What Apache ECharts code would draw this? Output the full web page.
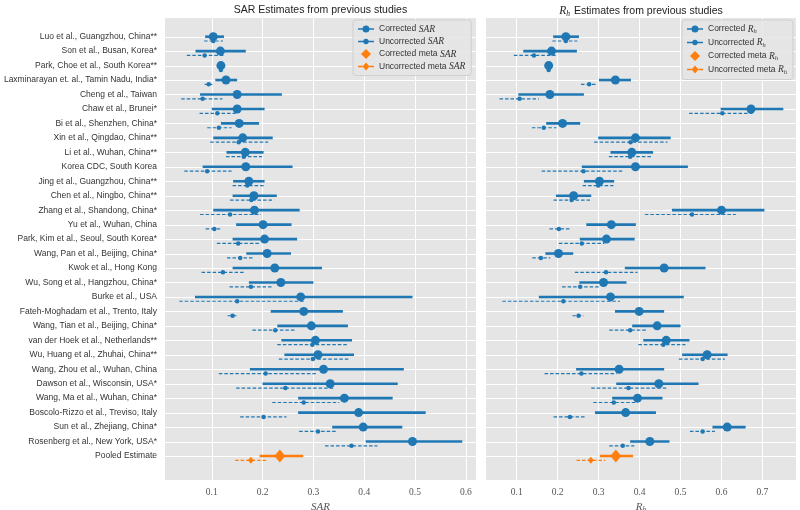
<!DOCTYPE html>
<html><head><meta charset="utf-8">
<script src="https://cdn.jsdelivr.net/npm/echarts@6/dist/echarts.min.js"></script>
<style>html,body{margin:0;padding:0;background:#fff}#c{width:800px;height:510px}</style>
</head><body><div id="c"></div>
<script>
// ---- data ----
const studies = [
  'Luo et al., Guangzhou, China**', 'Son et al., Busan, Korea*', 'Park, Choe et al., South Korea**',
  'Laxminarayan et. al., Tamin Nadu, India*', 'Cheng et al., Taiwan', 'Chaw et al., Brunei*',
  'Bi et al., Shenzhen, China*', 'Xin et al., Qingdao, China**', 'Li et al., Wuhan, China**',
  'Korea CDC, South Korea', 'Jing et al., Guangzhou, China**', 'Chen et al., Ningbo, China**',
  'Zhang et al., Shandong, China*', 'Yu et al., Wuhan, China', 'Park, Kim et al., Seoul, South Korea*',
  'Wang, Pan et al., Beijing, China*', 'Kwok et al., Hong Kong', 'Wu, Song et al., Hangzhou, China*',
  'Burke et al., USA', 'Fateh-Moghadam et al., Trento, Italy', 'Wang, Tian et al., Beijing, China*',
  'van der Hoek et al., Netherlands**', 'Wu, Huang et al., Zhuhai, China**', 'Wang, Zhou et al., Wuhan, China',
  'Dawson et al., Wisconsin, USA*', 'Wang, Ma et al., Wuhan, China*', 'Boscolo-Rizzo et al., Treviso, Italy',
  'Sun et al., Zhejiang, China*', 'Rosenberg et al., New York, USA*', 'Pooled Estimate'
];
const sarCorr   = [0.103,0.117,0.118,0.128,0.150,0.150,0.154,0.161,0.166,0.167,0.173,0.183,0.184,0.201,0.204,0.209,0.224,0.236,0.275,0.281,0.296,0.304,0.309,0.320,0.333,0.361,0.389,0.398,0.495];
const sarCorrLo = [0.087,0.068,0.115,0.107,0.077,0.100,0.118,0.103,0.129,0.082,0.142,0.141,0.103,0.148,0.141,0.168,0.141,0.173,0.067,0.216,0.229,0.237,0.243,0.175,0.200,0.270,0.270,0.337,0.403];
const sarCorrHi = [0.124,0.167,0.121,0.150,0.238,0.204,0.193,0.220,0.202,0.259,0.204,0.228,0.273,0.257,0.268,0.256,0.317,0.300,0.495,0.358,0.368,0.376,0.380,0.478,0.466,0.456,0.521,0.475,0.593];
const sarUnc    = [0.103,0.086,0.118,0.094,0.082,0.111,0.114,0.153,0.163,0.091,0.170,0.178,0.136,0.105,0.152,0.156,0.122,0.177,0.150,0.141,0.225,0.298,0.299,0.206,0.245,0.281,0.202,0.309,0.375];
const sarUncLo  = [0.085,0.051,0.116,0.086,0.040,0.076,0.091,0.097,0.128,0.046,0.141,0.136,0.077,0.088,0.110,0.130,0.080,0.135,0.036,0.131,0.180,0.229,0.232,0.114,0.148,0.219,0.156,0.272,0.323];
const sarUncHi  = [0.122,0.123,0.120,0.101,0.121,0.147,0.139,0.211,0.199,0.139,0.202,0.223,0.197,0.119,0.196,0.184,0.164,0.220,0.284,0.152,0.265,0.369,0.370,0.305,0.341,0.351,0.247,0.346,0.426];
const sarMetaCorr = [0.234, 0.194, 0.280];   // estimate, low, high
const sarMetaUnc  = [0.177, 0.146, 0.211];

const rhCorr   = [0.220,0.185,0.178,0.341,0.181,0.672,0.212,0.390,0.381,0.390,0.302,0.239,0.600,0.331,0.319,0.202,0.460,0.312,0.329,0.399,0.443,0.465,0.565,0.350,0.447,0.395,0.366,0.614,0.425];
const rhCorrLo = [0.189,0.116,0.175,0.301,0.104,0.598,0.172,0.299,0.329,0.259,0.264,0.196,0.479,0.270,0.254,0.170,0.364,0.253,0.154,0.340,0.382,0.409,0.504,0.245,0.343,0.333,0.291,0.578,0.377];
const rhCorrHi = [0.252,0.247,0.181,0.379,0.264,0.751,0.255,0.476,0.433,0.518,0.338,0.282,0.705,0.391,0.388,0.238,0.561,0.368,0.508,0.460,0.500,0.522,0.615,0.460,0.544,0.456,0.440,0.659,0.473];
const rhUnc    = [0.220,0.142,0.178,0.277,0.107,0.602,0.166,0.378,0.377,0.263,0.299,0.234,0.528,0.203,0.259,0.159,0.318,0.255,0.214,0.251,0.377,0.458,0.554,0.258,0.373,0.337,0.230,0.554,0.359];
const rhUncLo  = [0.187,0.093,0.175,0.257,0.058,0.521,0.137,0.289,0.325,0.161,0.261,0.190,0.413,0.180,0.203,0.138,0.242,0.211,0.065,0.236,0.326,0.397,0.496,0.168,0.282,0.287,0.190,0.523,0.326];
const rhUncHi  = [0.248,0.195,0.181,0.295,0.154,0.676,0.197,0.468,0.428,0.360,0.336,0.279,0.635,0.229,0.314,0.182,0.395,0.301,0.352,0.264,0.417,0.512,0.608,0.344,0.466,0.390,0.270,0.584,0.387];
const rhMetaCorr = [0.342, 0.303, 0.384];
const rhMetaUnc  = [0.281, 0.246, 0.316];

// ---- styling ----
const BLUE = '#1f77b4', ORANGE = '#ff7f0e', BG = '#e5e5e5';
const UNC_OFFSET = 0.3;
const nRows = studies.length;
const pooledRow = nRows - 1;

function rows(est, lo, hi, off) { return est.map((v, i) => [v, i + off, lo[i], hi[i]]); }
function metaRow(m, off) { return [[m[0], pooledRow + off, m[1], m[2]]]; }

function ciRender(width, dash) {
  return function (params, api) {
    const y = api.value(1);
    const p1 = api.coord([api.value(2), y]);
    const p2 = api.coord([api.value(3), y]);
    return { type: 'line', shape: { x1: p1[0], y1: p1[1], x2: p2[0], y2: p2[1] },
      style: { stroke: api.visual('color'), lineWidth: width, lineDash: dash || null } };
  };
}
// horizontal white grid line for each study row, across the whole plot area
function rowGridRender(params, api) {
  const cs = params.coordSys;
  const y = Math.round(api.coord([0.3, api.value(0)])[1]) + 0.5;
  return { type: 'line', shape: { x1: cs.x, y1: y, x2: cs.x + cs.width, y2: y },
    style: { stroke: '#ffffff', lineWidth: 1 } };
}

function yAxis(gi, showLabels) {
  return {
    type: 'value', gridIndex: gi, inverse: true, min: -1.29, max: 30.66, minInterval: 1, maxInterval: 1,
    axisLine: { show: false }, axisTick: { show: false },
    axisLabel: { show: showLabels, margin: 8, color: '#333', fontFamily: 'Liberation Sans', fontSize: 8.5,
      showMinLabel: false, showMaxLabel: false,
      formatter: v => { const i = Math.round(v); return (Math.abs(v - i) < 1e-6 && i >= 0 && i < nRows) ? studies[i] : ''; } },
    splitLine: { show: false }
  };
}
function xAxis(gi, min, max, nameRich) {
  return {
    type: 'value', gridIndex: gi, min: min, max: max, minInterval: 0.1, maxInterval: 0.1,
    axisLine: { show: false }, axisTick: { show: false },
    axisLabel: { margin: 7, color: '#555', fontFamily: 'Liberation Serif', fontSize: 9.5,
      showMinLabel: false, showMaxLabel: false, formatter: v => v.toFixed(1) },
    splitLine: { show: true, showMinLine: false, showMaxLine: false, lineStyle: { color: '#fff', width: 1 } },
    name: nameRich, nameLocation: 'middle', nameGap: 14,
    nameTextStyle: { color: '#555', rich: {
      i: { fontFamily: 'Liberation Serif', fontStyle: 'italic', fontSize: 11, color: '#555' },
      s: { fontFamily: 'Liberation Serif', fontStyle: 'italic', fontSize: 7.5, color: '#555', padding: [6, 0, 0, 0] } } }
  };
}

function panelSeries(gi, label, corr, lo, hi, unc, ulo, uhi, mc, mu) {
  return [
    { name: label + 'grid', type: 'custom', xAxisIndex: gi, yAxisIndex: gi, renderItem: rowGridRender,
      data: studies.map((s, i) => [i]), encode: { y: 0 }, z: 1, silent: true },
    { name: label + 'ciC', type: 'custom', xAxisIndex: gi, yAxisIndex: gi, renderItem: ciRender(2.6),
      itemStyle: { color: BLUE }, data: rows(corr, lo, hi, 0), encode: { x: [0, 2, 3], y: 1 }, z: 2 },
    { name: label + 'ciU', type: 'custom', xAxisIndex: gi, yAxisIndex: gi, renderItem: ciRender(1.2, [3.5, 2]),
      itemStyle: { color: BLUE }, data: rows(unc, ulo, uhi, UNC_OFFSET), encode: { x: [0, 2, 3], y: 1 }, z: 2 },
    { name: label + 'ciMC', type: 'custom', xAxisIndex: gi, yAxisIndex: gi, renderItem: ciRender(2.6),
      itemStyle: { color: ORANGE }, data: metaRow(mc, 0), encode: { x: [0, 2, 3], y: 1 }, z: 2 },
    { name: label + 'ciMU', type: 'custom', xAxisIndex: gi, yAxisIndex: gi, renderItem: ciRender(1.2, [3.5, 2]),
      itemStyle: { color: ORANGE }, data: metaRow(mu, UNC_OFFSET), encode: { x: [0, 2, 3], y: 1 }, z: 2 },
    { name: 'Corrected ' + label, type: 'scatter', xAxisIndex: gi, yAxisIndex: gi, symbol: 'circle', symbolSize: 9,
      itemStyle: { color: BLUE, opacity: 1 }, data: rows(corr, lo, hi, 0), z: 3 },
    { name: 'Uncorrected ' + label, type: 'scatter', xAxisIndex: gi, yAxisIndex: gi, symbol: 'circle', symbolSize: 4.5,
      itemStyle: { color: BLUE, opacity: 1 }, data: rows(unc, ulo, uhi, UNC_OFFSET), z: 3 },
    { name: 'Corrected meta ' + label, type: 'scatter', xAxisIndex: gi, yAxisIndex: gi, symbol: 'diamond', symbolSize: [11, 13],
      itemStyle: { color: ORANGE, opacity: 1 }, data: metaRow(mc, 0), z: 3 },
    { name: 'Uncorrected meta ' + label, type: 'scatter', xAxisIndex: gi, yAxisIndex: gi, symbol: 'diamond', symbolSize: [6, 7],
      itemStyle: { color: ORANGE, opacity: 1 }, data: metaRow(mu, UNC_OFFSET), z: 3 }
  ];
}

const ICON_CORR = 'path://M0,4.2L4.6,4.2L4.6,5.8L0,5.8Z M11.4,4.2L16,4.2L16,5.8L11.4,5.8Z M4.5,5a3.5,3.5 0 1,1 7,0a3.5,3.5 0 1,1 -7,0Z';
const ICON_UNC = 'path://M2,4.5L6.2,4.5L6.2,5.5L2,5.5Z M9.8,4.5L14,4.5L14,5.5L9.8,5.5Z M6,5a2,2 0 1,1 4,0a2,2 0 1,1 -4,0Z';
const ICON_MC = 'path://M8,0L13,5L8,10L3,5Z';
const ICON_MU = 'path://M2,4.5L5.5,4.5L5.5,5.5L2,5.5Z M10.5,4.5L14,4.5L14,5.5L10.5,5.5Z M8,2L10.6,5L8,8L5.4,5Z';

const legendRich = {
  m: { fontFamily: 'Liberation Serif', fontStyle: 'italic', fontSize: 9.5, color: '#333' },
  s: { fontFamily: 'Liberation Serif', fontStyle: 'italic', fontSize: 6.5, color: '#333', padding: [5, 0, 0, 0] }
};
function legend(left, label, fmt) {
  return {
    orient: 'vertical', left: left, top: 20, padding: [4, 6, 4, 5], itemGap: 2.5,
    itemWidth: 16, itemHeight: 10, backgroundColor: 'rgba(229,229,229,0.85)', borderColor: '#cfcfcf', borderWidth: 1, borderRadius: 3,
    textStyle: { fontFamily: 'Liberation Sans', fontSize: 8.5, color: '#333', rich: legendRich },
    selectedMode: false,
    data: [
      { name: 'Corrected ' + label, icon: ICON_CORR },
      { name: 'Uncorrected ' + label, icon: ICON_UNC },
      { name: 'Corrected meta ' + label, icon: ICON_MC },
      { name: 'Uncorrected meta ' + label, icon: ICON_MU }
    ],
    formatter: name => name.replace(label, '') + fmt
  };
}

const chart = echarts.init(document.getElementById('c'), null, { renderer: 'canvas' });
chart.setOption({
  animation: false,
  backgroundColor: '#fff',
  title: [
    { text: 'SAR Estimates from previous studies', left: 320.5, top: 5, textAlign: 'center', padding: 0,
      textStyle: { fontFamily: 'Liberation Sans', fontSize: 10.5, fontWeight: 'normal', color: '#222' } },
    { text: '{i|R}{s|h} Estimates from previous studies', left: 641, top: 4, textAlign: 'center', padding: 0,
      textStyle: { fontFamily: 'Liberation Sans', fontSize: 10.5, fontWeight: 'normal', color: '#222',
        rich: { i: { fontFamily: 'Liberation Serif', fontStyle: 'italic', fontSize: 11.5, color: '#222' },
                s: { fontFamily: 'Liberation Serif', fontStyle: 'italic', fontSize: 7.5, color: '#222', padding: [6, 1, 0, 0] } } } }
  ],
  grid: [
    { left: 165, top: 18, width: 311, height: 462, show: true, backgroundColor: BG, borderWidth: 0,
      containLabel: false, outerBoundsMode: 'none' },
    { left: 486, top: 18, width: 310, height: 462, show: true, backgroundColor: BG, borderWidth: 0,
      containLabel: false, outerBoundsMode: 'none' }
  ],
  xAxis: [xAxis(0, 0.008, 0.620, '{i|SAR}'), xAxis(1, 0.025, 0.782, '{i|R}{s|h}')],
  yAxis: [yAxis(0, true), yAxis(1, false)],
  legend: [legend(353, 'SAR', '{m|SAR}'), legend(682, 'Rh', '{m|R}{s|h}')],
  series: [].concat(
    panelSeries(0, 'SAR', sarCorr, sarCorrLo, sarCorrHi, sarUnc, sarUncLo, sarUncHi, sarMetaCorr, sarMetaUnc),
    panelSeries(1, 'Rh', rhCorr, rhCorrLo, rhCorrHi, rhUnc, rhUncLo, rhUncHi, rhMetaCorr, rhMetaUnc)
  )
});
</script></body></html>
